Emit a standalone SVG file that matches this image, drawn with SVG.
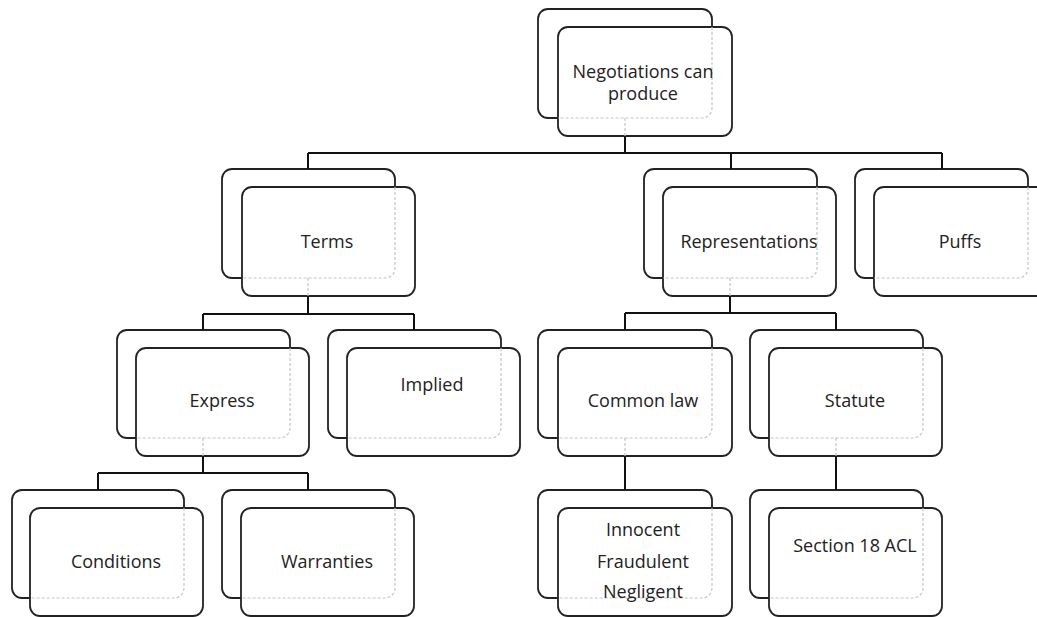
<svg xmlns="http://www.w3.org/2000/svg" width="1037" height="617" viewBox="0 0 1037 617">
<style>
.bk{fill:#fff;stroke:#222;stroke-width:1.8}
.fr{fill:#fff;stroke:#222;stroke-width:1.8}
.hid{fill:none;stroke:#c4c4c4;stroke-width:1.2;stroke-dasharray:3 2}
.con{fill:none;stroke:#111;stroke-width:2}
text{font-family:"Open Sans","Liberation Sans",sans-serif;font-size:18px;fill:#222;text-anchor:middle}
</style>
<rect width="1037" height="617" fill="#fff"/>
<g id="n-top">
<rect class="bk" x="538" y="9" width="174" height="109" rx="10"/>
<rect class="fr" x="558" y="27" width="174" height="109" rx="10"/>
<path class="hid" d="M712,27 V108 A10 10 0 0 1 702,118 H558"/>
<text x="643" y="78">Negotiations can</text>
<text x="643" y="100">produce</text>
</g>
<g id="n-terms">
<rect class="bk" x="222" y="169" width="173" height="109" rx="10"/>
<rect class="fr" x="242" y="187" width="173" height="109" rx="10"/>
<path class="hid" d="M395,187 V268 A10 10 0 0 1 385,278 H242"/>
<text x="327" y="248">Terms</text>
</g>
<g id="n-reps">
<rect class="bk" x="644" y="169" width="173" height="109" rx="10"/>
<rect class="fr" x="663" y="187" width="173" height="109" rx="10"/>
<path class="hid" d="M817,187 V268 A10 10 0 0 1 807,278 H663"/>
<text x="749" y="248">Representations</text>
</g>
<g id="n-puffs">
<rect class="bk" x="855" y="169" width="173" height="109" rx="10"/>
<rect class="fr" x="874" y="187" width="173" height="109" rx="10"/>
<path class="hid" d="M1028,187 V268 A10 10 0 0 1 1018,278 H874"/>
<text x="960" y="248">Puffs</text>
</g>
<g id="n-express">
<rect class="bk" x="117" y="330" width="173" height="108" rx="10"/>
<rect class="fr" x="136" y="348" width="173" height="108" rx="10"/>
<path class="hid" d="M290,348 V428 A10 10 0 0 1 280,438 H136"/>
<text x="222" y="407">Express</text>
</g>
<g id="n-implied">
<rect class="bk" x="328" y="330" width="173" height="108" rx="10"/>
<rect class="fr" x="347" y="348" width="173" height="108" rx="10"/>
<path class="hid" d="M501,348 V428 A10 10 0 0 1 491,438 H347"/>
<text x="432" y="391">Implied</text>
</g>
<g id="n-common">
<rect class="bk" x="538" y="330" width="174" height="108" rx="10"/>
<rect class="fr" x="558" y="348" width="174" height="108" rx="10"/>
<path class="hid" d="M712,348 V428 A10 10 0 0 1 702,438 H558"/>
<text x="643" y="407">Common law</text>
</g>
<g id="n-statute">
<rect class="bk" x="750" y="330" width="173" height="108" rx="10"/>
<rect class="fr" x="769" y="348" width="173" height="108" rx="10"/>
<path class="hid" d="M923,348 V428 A10 10 0 0 1 913,438 H769"/>
<text x="855" y="407">Statute</text>
</g>
<g id="n-conditions">
<rect class="bk" x="12" y="490" width="172" height="108" rx="10"/>
<rect class="fr" x="30" y="508" width="173" height="108" rx="10"/>
<path class="hid" d="M184,508 V588 A10 10 0 0 1 174,598 H30"/>
<text x="116" y="568">Conditions</text>
</g>
<g id="n-warranties">
<rect class="bk" x="222" y="490" width="173" height="108" rx="10"/>
<rect class="fr" x="241" y="508" width="173" height="108" rx="10"/>
<path class="hid" d="M395,508 V588 A10 10 0 0 1 385,598 H241"/>
<text x="327" y="568">Warranties</text>
</g>
<g id="n-misrep">
<rect class="bk" x="538" y="490" width="174" height="108" rx="10"/>
<rect class="fr" x="558" y="508" width="174" height="108" rx="10"/>
<path class="hid" d="M712,508 V588 A10 10 0 0 1 702,598 H558"/>
<text x="643" y="536">Innocent</text>
<text x="643" y="568">Fraudulent</text>
<text x="643" y="598">Negligent</text>
</g>
<g id="n-section">
<rect class="bk" x="750" y="490" width="173" height="108" rx="10"/>
<rect class="fr" x="769" y="508" width="173" height="108" rx="10"/>
<path class="hid" d="M923,508 V588 A10 10 0 0 1 913,598 H769"/>
<text x="855" y="552">Section 18 ACL</text>
</g>
<g id="connectors">
<path class="con" d="M625,136 V153 M308,153 H942 M308,153 V169 M731,153 V169 M942,153 V169"/>
<path class="con" d="M308,296 V314 M203,314 H414 M203,314 V330 M414,314 V330"/>
<path class="con" d="M730,296 V313 M625,313 H836 M625,313 V330 M836,313 V330"/>
<path class="con" d="M203,456 V473 M98,473 H308 M98,473 V490 M308,473 V490"/>
<path class="con" d="M625,456 V490"/>
<path class="con" d="M836,456 V490"/>
<path class="hid" d="M625,118 V136 M308,278 V296 M730,278 V296 M203,438 V456 M625,438 V456 M836,438 V456"/>
</g>
</svg>
